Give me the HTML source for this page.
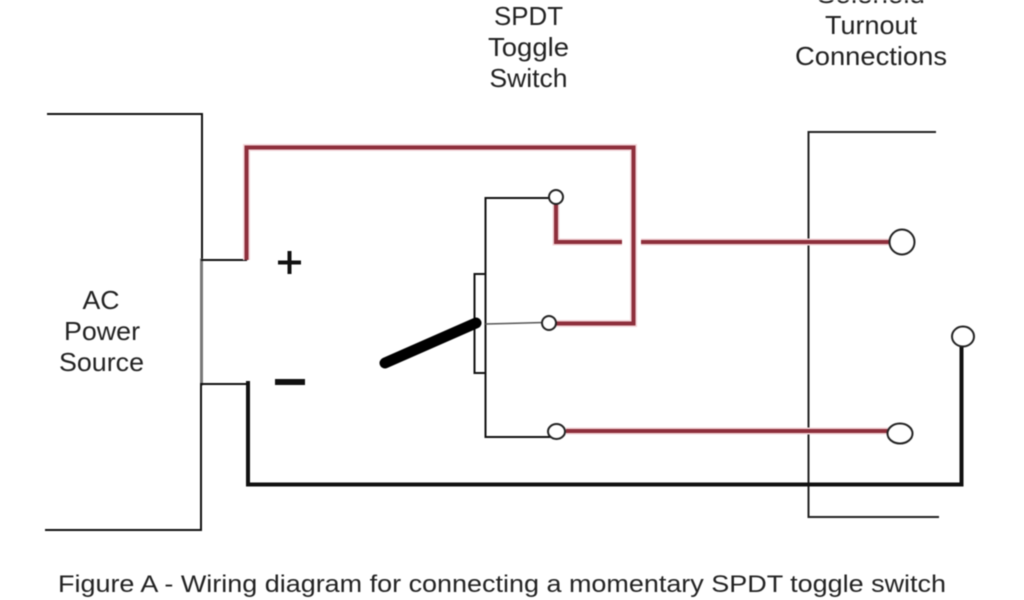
<!DOCTYPE html>
<html><head><meta charset="utf-8"><style>
html,body{margin:0;padding:0;background:#fff;width:1024px;height:600px;overflow:hidden}
svg{display:block;filter:blur(0.55px)}
text{font-family:"Liberation Sans",sans-serif;fill:#222;text-anchor:middle;font-size:26px}
</style></head><body>
<svg width="1024" height="600" viewBox="0 0 1024 600" fill="none" stroke-linecap="square">
<!-- AC source box -->
<path d="M48 114H202V260" stroke="#111" stroke-width="2"/>
<path d="M201.500 260V384" stroke="#777" stroke-width="3"/>
<path d="M201 384V530H46" stroke="#111" stroke-width="2"/>
<path d="M202 260H246M202 384H249" stroke="#111" stroke-width="2"/>
<!-- Turnout box -->
<path d="M935 132H808.500V517H938" stroke="#222" stroke-width="2"/>
<!-- Switch wiring -->
<path d="M556 198H485.500V437H556" stroke="#111" stroke-width="2"/>
<path d="M485 274H474.500V373H485" stroke="#111" stroke-width="2"/>
<path d="M486 324L543 322.500" stroke="#555" stroke-width="1.500"/>
<!-- Red wire halo -->
<g stroke="#f3d5d8" stroke-width="7" stroke-linecap="butt">
<path d="M246.500 260V147.500H633.500V323.500H556"/>
<path d="M556 204V242H622"/>
<path d="M641 242H890"/>
<path d="M566 431H888"/>
</g>
<!-- Red wires -->
<g stroke="#8e2f3c" stroke-width="4" stroke-linecap="butt" stroke-linejoin="miter">
<path d="M246.500 260V147.500H633.500V323.500H556"/>
<path d="M556 204V242H622"/>
<path d="M641 242H890"/>
<path d="M566 431H888"/>
</g>
<!-- Black wire -->
<path d="M248 381V484.500H961.500V346" stroke="#111" stroke-width="4" stroke-linecap="butt"/>
<!-- Lever -->
<path d="M385 363L476 323" stroke="#000" stroke-width="11" stroke-linecap="round"/>
<!-- Terminals -->
<g fill="#fff" stroke="#222" stroke-width="2">
<circle cx="556" cy="197" r="7"/>
<circle cx="549" cy="323" r="7"/>
<ellipse cx="556.500" cy="431.500" rx="8.500" ry="7.500"/>
<circle cx="902" cy="242" r="12.500"/>
<ellipse cx="900" cy="433.500" rx="12.500" ry="10"/>
<ellipse cx="963" cy="336.500" rx="11" ry="10"/>
</g>
<!-- Plus / minus -->
<path d="M278 262.500H301M289.500 251V274" stroke="#111" stroke-width="4" stroke-linecap="butt"/>
<path d="M275 382H305" stroke="#111" stroke-width="6" stroke-linecap="butt"/>
<!-- Labels -->
<text x="101" y="309" textLength="37" lengthAdjust="spacingAndGlyphs">AC</text>
<text x="102" y="340" textLength="76" lengthAdjust="spacingAndGlyphs">Power</text>
<text x="101.500" y="371" textLength="85" lengthAdjust="spacingAndGlyphs">Source</text>
<text x="528.500" y="25" textLength="69" lengthAdjust="spacingAndGlyphs">SPDT</text>
<text x="528.500" y="56" textLength="81" lengthAdjust="spacingAndGlyphs">Toggle</text>
<text x="528.500" y="87" textLength="78" lengthAdjust="spacingAndGlyphs">Switch</text>
<text x="871" y="3" textLength="108" lengthAdjust="spacingAndGlyphs">Solenoid</text>
<text x="871" y="34" textLength="92" lengthAdjust="spacingAndGlyphs">Turnout</text>
<text x="871" y="65" textLength="152" lengthAdjust="spacingAndGlyphs">Connections</text>
<text x="502" y="592" font-size="24" style="font-size:24px" textLength="888" lengthAdjust="spacingAndGlyphs">Figure A - Wiring diagram for connecting a momentary SPDT toggle switch</text>
</svg>
</body></html>
